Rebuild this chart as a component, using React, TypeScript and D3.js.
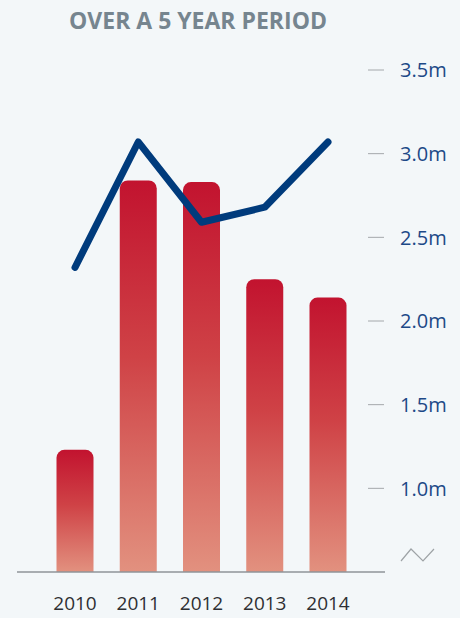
import React from "react";
import * as d3 from "d3";

const years = ["2010", "2011", "2012", "2013", "2014"];
const barValues = [1.23, 2.84, 2.83, 2.25, 2.14];
const lineValues = [2.32, 3.07, 2.59, 2.68, 3.07];
const tickValues = [1.0, 1.5, 2.0, 2.5, 3.0, 3.5];
const title = "OVER A 5 YEAR PERIOD";

const W = 460;
const H = 618;

export default function App() {
  const x = d3.scalePoint<string>().domain(years).range([75, 328]);
  const y = d3.scaleLinear().domain([0.5, 3.5]).range([572, 70]);
  const barW = 37;
  const r = 8;
  const baseY = y(0.5);

  const barPath = (cx: number, top: number) => {
    const x0 = cx - barW / 2;
    const x1 = cx + barW / 2;
    const p = d3.path();
    p.moveTo(x0, baseY);
    p.lineTo(x0, top + r);
    p.arcTo(x0, top, x0 + r, top, r);
    p.lineTo(x1 - r, top);
    p.arcTo(x1, top, x1, top + r, r);
    p.lineTo(x1, baseY);
    p.closePath();
    return p.toString();
  };

  const line = d3
    .line<number>()
    .x((_, i) => x(years[i]) as number)
    .y((d) => y(d));

  return (
    <svg
      width={W}
      height={H}
      style={{ position: "absolute", left: 0, top: 0, display: "block" }}
    >
      <defs>
        <linearGradient id="barGrad" x1="0" y1="0" x2="0" y2="1">
          <stop offset="0%" stopColor="#c2132f" />
          <stop offset="45%" stopColor="#cf4246" />
          <stop offset="100%" stopColor="#e2917f" />
        </linearGradient>
      </defs>
      <rect x={0} y={0} width={W} height={H} fill="#f3f7f9" />
      <text
        x={198}
        y={29}
        textAnchor="middle"
        fontFamily="'Open Sans', sans-serif"
        fontWeight={700}
        fontSize={24}
        fill="#76858f"
        textLength={258}
        lengthAdjust="spacingAndGlyphs"
      >
        {title}
      </text>

      {barValues.map((v, i) => (
        <path
          key={years[i]}
          d={barPath(x(years[i]) as number, y(v))}
          fill="url(#barGrad)"
        />
      ))}

      <line x1={17} x2={385} y1={baseY} y2={baseY} stroke="#8f9599" strokeWidth={1.3} />

      <path
        d={line(lineValues) || ""}
        fill="none"
        stroke="#003b7c"
        strokeWidth={7}
        strokeLinecap="round"
        strokeLinejoin="round"
      />

      {tickValues.map((t) => (
        <g key={t}>
          <line x1={368} x2={384} y1={y(t)} y2={y(t)} stroke="#a4a8ab" strokeWidth={1} />
          <text
            x={400}
            y={y(t)}
            dy="0.36em"
            fontFamily="'Open Sans', sans-serif"
            fontSize={20}
            fill="#1d4987"
          >
            {t.toFixed(1) + "m"}
          </text>
        </g>
      ))}

      <path
        d={`M401,561 L411,549 L423,561 L434,549`}
        fill="none"
        stroke="#9ea3a6"
        strokeWidth={1.2}
      />

      {years.map((yr) => (
        <text
          key={yr}
          x={x(yr) as number}
          y={610}
          textAnchor="middle"
          fontFamily="'Open Sans', sans-serif"
          fontSize={19}
          fill="#2e2f33"
        >
          {yr}
        </text>
      ))}
    </svg>
  );
}
